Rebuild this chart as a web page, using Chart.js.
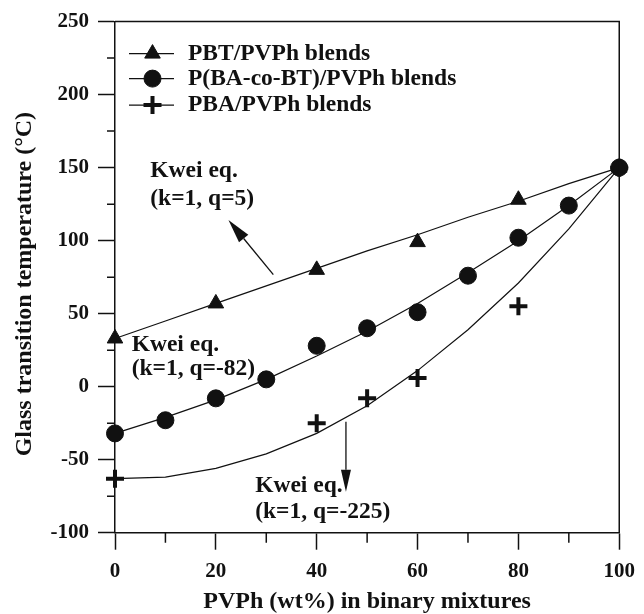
<!DOCTYPE html>
<html><head><meta charset="utf-8">
<script src="https://cdn.jsdelivr.net/npm/chart.js@4"></script>
<style>html,body{margin:0;padding:0;background:#fff;}</style>
</head><body>
<canvas id="c" width="644" height="614"></canvas>
<script>
// ---- data ----
const fitX   = [0,10,20,30,40,50,60,70,80,90,100];
const pbtFit = [33,45,57,69,81,93,104,116,127,139,150];
const coFit  = [-32,-21,-9,5,21,38,57,78,100,124,150];
const pbaFit = [-63,-62,-56,-46,-32,-13,11,39,71,108,150];

const pbtX  = [0,20,40,60,80,100];
const pbtTg = [33,57,80,99,128,150];
const coX   = [0,10,20,30,40,50,60,70,80,90,100];
const coTg  = [-32,-23,-8,5,28,40,51,76,102,124,150];
const pbaX  = [0,40,50,60,80,100];
const pbaTg = [-63,-25,-8,6,55,150];

const seriesLabels = ['PBT/PVPh blends','P(BA-co-BT)/PVPh blends','PBA/PVPh blends'];
const xTitle = 'PVPh (wt%) in binary mixtures';
const yTitle = 'Glass transition temperature (\u00B0C)';
const annotations = [
  {lines:['Kwei eq.','(k=1, q=5)'], x:7.0, y:[147.6,128.8]},
  {lines:['Kwei eq.','(k=1, q=-82)'], x:3.3, y:[28.3,12.2]},
  {lines:['Kwei eq.','(k=1, q=-225)'], x:27.8, y:[-67.7,-85.9]}
];
const arrows = [
  {from:[31.4,76.7], to:[22.5,114.2], len:24, w:12},
  {from:[45.8,-24.1], to:[45.8,-72], len:22, w:10}
];

const INK = '#111';
const FAM = "'Liberation Serif','Times New Roman',serif";
const pts = (xs, ys) => xs.map((x,i)=>({x, y: ys[i]}));

const markerStyle = [
  {pointStyle:'triangle', radius:9, bw:1},
  {pointStyle:'circle', radius:8.5, bw:1},
  {pointStyle:'cross', radius:9, bw:4}
];

const datasets = [
  {label:seriesLabels[0], data:pts(pbtX,pbtTg), showLine:false, clip:false, pointStyle:'triangle', pointRadius:9, pointBorderWidth:1, pointBackgroundColor:INK, pointBorderColor:INK},
  {label:seriesLabels[1], data:pts(coX,coTg), showLine:false, clip:false, pointStyle:'circle', pointRadius:8.5, pointBorderWidth:1, pointBackgroundColor:INK, pointBorderColor:INK},
  {label:seriesLabels[2], data:pts(pbaX,pbaTg), showLine:false, clip:false, pointStyle:'cross', pointRadius:9, pointBorderWidth:4, pointBackgroundColor:INK, pointBorderColor:INK},
  {label:'fit1', data:pts(fitX,pbtFit), showLine:true, clip:false, pointRadius:0, borderColor:INK, borderWidth:1.2, tension:0},
  {label:'fit2', data:pts(fitX,coFit), showLine:true, clip:false, pointRadius:0, borderColor:INK, borderWidth:1.2, tension:0},
  {label:'fit3', data:pts(fitX,pbaFit), showLine:true, clip:false, pointRadius:0, borderColor:INK, borderWidth:1.2, tension:0}
];

const decor = {
  id:'decor',
  afterDraw(chart){
    const {ctx, chartArea:a, scales:{x, y}} = chart;
    ctx.save();
    ctx.strokeStyle = INK; ctx.fillStyle = INK; ctx.lineWidth = 1.5;
    // frame top/right
    ctx.beginPath();
    ctx.moveTo(a.left, a.top); ctx.lineTo(a.right, a.top); ctx.lineTo(a.right, a.bottom);
    ctx.stroke();
    // minor ticks
    ctx.beginPath();
    for (let v=-75; v<250; v+=50){ const py=y.getPixelForValue(v); ctx.moveTo(a.left,py); ctx.lineTo(a.left-8,py); }
    for (let v=10; v<100; v+=20){ const px=x.getPixelForValue(v); ctx.moveTo(px,a.bottom); ctx.lineTo(px,a.bottom+10); }
    ctx.stroke();
    // y title
    ctx.save();
    ctx.font = 'bold 24px ' + FAM;
    ctx.textAlign = 'center'; ctx.textBaseline = 'middle';
    ctx.translate(25, (a.top + a.bottom)/2 + 7);
    ctx.rotate(-Math.PI/2);
    ctx.fillText(yTitle, 0, 0);
    ctx.restore();
    // legend
    ctx.font = 'bold 23.5px ' + FAM;
    ctx.textBaseline = 'middle'; ctx.textAlign = 'left';
    const rows = [32, 57, 83.5];
    seriesLabels.forEach((lab,i)=>{
      const ry = a.top + rows[i];
      ctx.lineWidth = 1.2;
      ctx.beginPath(); ctx.moveTo(a.left+14, ry); ctx.lineTo(a.left+59, ry); ctx.stroke();
      const m = markerStyle[i];
      ctx.lineWidth = m.bw;
      Chart.helpers.drawPoint(ctx, {pointStyle:m.pointStyle, radius:m.radius, borderWidth:m.bw, rotation:0}, a.left+37.5, ry);
      ctx.fillStyle = INK; ctx.strokeStyle = INK;
      ctx.fillText(lab, a.left+73, ry);
    });
    // annotations
    annotations.forEach(an=>{
      an.lines.forEach((t,i)=> ctx.fillText(t, x.getPixelForValue(an.x), y.getPixelForValue(an.y[i])));
    });
    // arrows
    arrows.forEach(ar=>{
      const x0=x.getPixelForValue(ar.from[0]), y0=y.getPixelForValue(ar.from[1]);
      const x1=x.getPixelForValue(ar.to[0]), y1=y.getPixelForValue(ar.to[1]);
      const dx=x1-x0, dy=y1-y0, L=Math.hypot(dx,dy), ux=dx/L, uy=dy/L;
      const bx=x1-ux*ar.len, by=y1-uy*ar.len;
      ctx.lineWidth = 1.3;
      ctx.beginPath(); ctx.moveTo(x0,y0); ctx.lineTo(bx,by); ctx.stroke();
      ctx.beginPath(); ctx.moveTo(x1,y1);
      ctx.lineTo(bx - uy*ar.w/2, by + ux*ar.w/2);
      ctx.lineTo(bx + uy*ar.w/2, by - ux*ar.w/2);
      ctx.closePath(); ctx.fill();
    });
    ctx.restore();
  }
};

const tickFont = {family:FAM, size:21, weight:'bold', lineHeight:1.2};
const titleFont = {family:FAM, size:24, weight:'bold', lineHeight:1};

new Chart(document.getElementById('c'), {
  type:'scatter',
  data:{datasets},
  options:{
    responsive:false, animation:false, devicePixelRatio:1,
    layout:{padding:{left:13, top:20.7, right:17, bottom:0}},
    plugins:{legend:{display:false}, tooltip:{enabled:false}},
    scales:{
      x:{type:'linear', min:0, max:100,
        ticks:{stepSize:20, font:tickFont, color:INK, padding:9, maxRotation:0},
        grid:{display:true, drawOnChartArea:false, drawTicks:true, tickLength:17, tickWidth:1.5, tickColor:INK},
        border:{display:true, color:INK, width:1.5},
        title:{display:true, text:xTitle, font:titleFont, color:INK, padding:0},
        afterFit(s){ s.height = 81.3; }
      },
      y:{type:'linear', min:-100, max:250,
        ticks:{stepSize:50, font:tickFont, color:INK, padding:9},
        grid:{display:true, drawOnChartArea:false, drawTicks:true, tickLength:17, tickWidth:1.5, tickColor:INK},
        border:{display:true, color:INK, width:1.5},
        title:{display:false, text:yTitle},
        afterFit(s){ s.width = 102; }
      }
    }
  },
  plugins:[decor]
});
</script>
</body></html>
